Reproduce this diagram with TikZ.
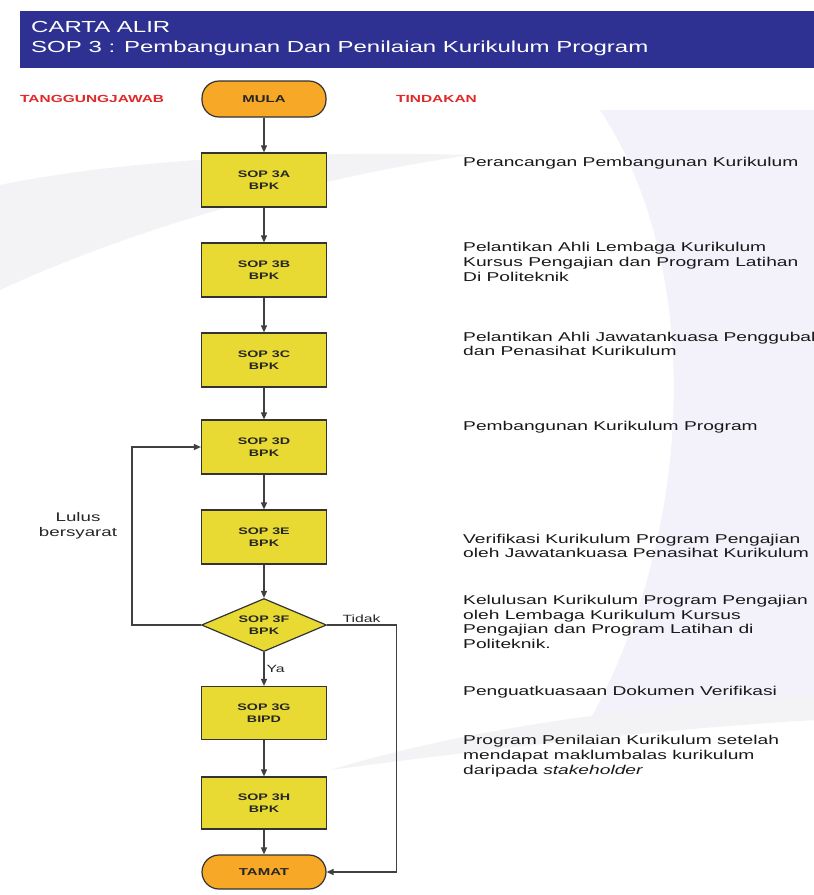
\documentclass[tikz,border=0pt]{standalone}
\usepackage{fontspec}
\setmainfont{Liberation Sans}
\newfontfamily\widesans[FakeStretch=1.5]{Liberation Sans}
\usepackage{xcolor}
\usepackage{tikz}
\usetikzlibrary{arrows.meta, positioning, shapes.geometric, backgrounds}
\definecolor{bandblue}{RGB}{46,49,146}
\definecolor{boxyellow}{RGB}{232,218,50}
\definecolor{capsorange}{RGB}{247,168,38}
\definecolor{labelred}{RGB}{226,40,40}
\definecolor{wmgray}{RGB}{243,243,246}
\definecolor{wmlav}{RGB}{243,241,249}

\begin{document}
\begin{tikzpicture}[x=1pt, y=-1pt,
    stepbox/.style={draw=black!80, fill=boxyellow, line width=1.2pt, minimum width=125pt, minimum height=54pt, align=center, inner sep=0pt, font=\widesans\bfseries\fontsize{9.5}{12}\selectfont, text=black!85},
    decision/.style={diamond, draw=black!80, fill=boxyellow, line width=1.2pt, minimum width=125pt, minimum height=53pt, aspect=2.36, align=center, inner sep=0pt, font=\widesans\bfseries\fontsize{9.5}{12}\selectfont, text=black!85},
    capsule/.style={draw=black!80, fill=capsorange, line width=1.2pt, rounded corners=17pt, minimum width=124pt, minimum height=36pt, inner sep=0pt, font=\widesans\bfseries\fontsize{10}{12}\selectfont, text=black!85},
    action/.style={anchor=west, align=left, inner sep=0pt, font=\widesans\fontsize{12.8}{14.8}\selectfont, text=black!90},
    redlabel/.style={anchor=west, inner sep=0pt, font=\widesans\bfseries\fontsize{10.3}{12}\selectfont, text=labelred},
    small/.style={inner sep=2pt, font=\widesans\fontsize{10.5}{12}\selectfont, text=black!85},
    arrow/.style={-{Stealth[length=7pt, width=6pt, inset=0pt]}, line width=1.2pt, draw=black!75}
]
\useasboundingbox (0,0) rectangle (814,895);
% Background and watermark
\begin{scope}[on background layer]
    \fill[white] (0,0) rectangle (814,895);
    \fill[wmlav] (600,110) .. controls (700,260) and (700,520) .. (590,720) -- (814,720) -- (814,110) -- cycle;
    \fill[wmgray] (0,185) .. controls (120,160) and (300,150) .. (470,155) .. controls (300,180) and (130,230) .. (0,290) -- cycle;
    \fill[wmgray] (330,770) .. controls (480,725) and (650,705) .. (814,695) -- (814,720) .. controls (650,730) and (480,750) .. (330,770) -- cycle;
\end{scope}
% Title band
\fill[bandblue] (20,11) rectangle (814,68);
\node[anchor=west, align=left, inner sep=0pt, text=white, font=\widesans\fontsize{16}{20}\selectfont] (judul) at (31,39) {CARTA ALIR\\SOP 3 : Pembangunan Dan Penilaian Kurikulum Program};
% Column titles
\node[redlabel] (tgj) at (20,99) {TANGGUNGJAWAB};
\node[redlabel] (tdk) at (396,99) {TINDAKAN};
% Flow
\node[capsule] (mula) at (264,99) {MULA};
\node[stepbox] (a) at (264,180) {SOP 3A\\BPK};
\node[stepbox] (b) at (264,270) {SOP 3B\\BPK};
\node[stepbox] (c) at (264,360) {SOP 3C\\BPK};
\node[stepbox] (d) at (264,447) {SOP 3D\\BPK};
\node[stepbox] (e) at (264,537) {SOP 3E\\BPK};
\node[decision] (f) at (264,625) {SOP 3F\\BPK};
\node[stepbox, minimum height=53pt] (g) at (264,713) {SOP 3G\\BIPD};
\node[stepbox, minimum height=52pt] (h) at (264,803) {SOP 3H\\BPK};
\node[capsule, minimum height=34pt] (tamat) at (264,872) {TAMAT};
% Actions
\node[action] (ta) at (463,163) {Perancangan Pembangunan Kurikulum};
\node[action] (tb) at (463,262) {Pelantikan Ahli Lembaga Kurikulum\\Kursus Pengajian dan Program Latihan\\Di Politeknik};
\node[action] (tc) at (463,344) {Pelantikan Ahli Jawatankuasa Penggubal\\dan Penasihat Kurikulum};
\node[action] (td) at (463,427) {Pembangunan Kurikulum Program};
\node[action] (te) at (463,546) {Verifikasi Kurikulum Program Pengajian\\oleh Jawatankuasa Penasihat Kurikulum};
\node[action] (tf) at (463,622) {Kelulusan Kurikulum Program Pengajian\\oleh Lembaga Kurikulum Kursus\\Pengajian dan Program Latihan di\\Politeknik.};
\node[action] (tg) at (463,692) {Penguatkuasaan Dokumen Verifikasi};
\node[action] (th) at (463,756) {Program Penilaian Kurikulum setelah\\mendapat maklumbalas kurikulum\\daripada \textit{stakeholder}};
\node[small, align=center, font=\widesans\fontsize{12.5}{15}\selectfont] (lulus) at (78,526) {Lulus\\bersyarat};
% Arrows
\draw[arrow] (mula) -- (a);
\draw[arrow] (a) -- (b);
\draw[arrow] (b) -- (c);
\draw[arrow] (c) -- (d);
\draw[arrow] (d) -- (e);
\draw[arrow] (e) -- (f);
\draw[arrow] (f) -- node[small, right] {Ya} (g);
\draw[arrow] (g) -- (h);
\draw[arrow] (h) -- (tamat);
\draw[arrow] (f.west) -- ++(-69,0) |- (d.west);
\draw[arrow] (f.east) -- node[small, above] {Tidak} ++(69,0) |- (tamat.east);
\end{tikzpicture}
\end{document}
